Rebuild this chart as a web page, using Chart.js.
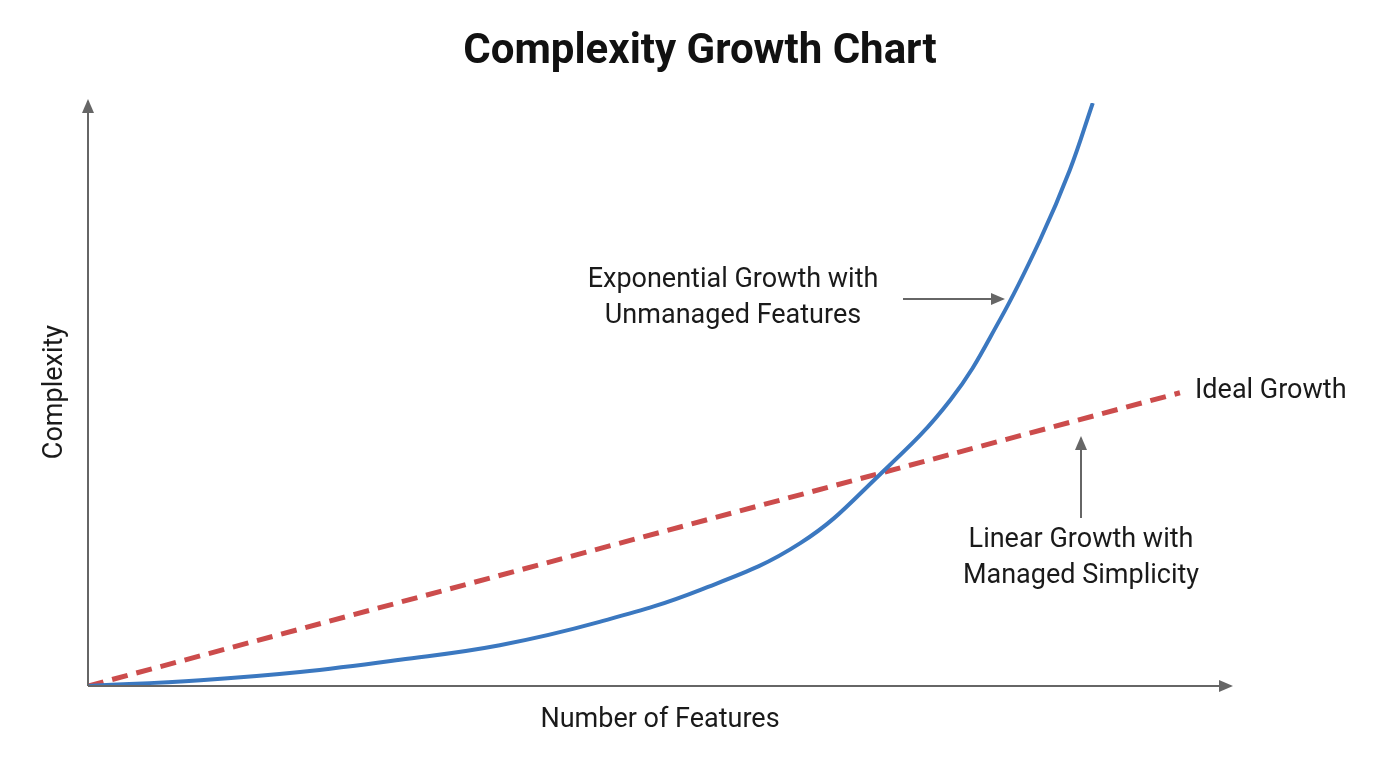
<!DOCTYPE html>
<html><head><meta charset="utf-8">
<script src="https://cdn.jsdelivr.net/npm/chart.js@4"></script>
<style>html,body{margin:0;background:#fff}#wrap{width:1400px;height:764px}</style>
</head><body><div id="wrap"><canvas id="c"></canvas></div>
<script>
const expX = [0, 9.8, 18.5, 27.2, 35.9, 44.6, 53.4, 62.1, 69.0, 75.2, 79.5, 83.0, 85.6, 87.6];
const expY = [0, 1.0, 2.4, 4.5, 7.0, 11.0, 16.5, 24.5, 36.2, 49.1, 62.8, 76.5, 88.5, 100];
const linX = [0, 95.2];
const linY = [0, 50.3];
const titleText = 'Complexity Growth Chart';
const xTitle = 'Number of Features';
const yTitle = 'Complexity';

const deco = {
  id: 'deco',
  afterDraw(chart) {
    const ctx = chart.ctx, a = chart.chartArea;
    const F = '"Roboto", "Liberation Sans", sans-serif';
    ctx.save();
    ctx.fillStyle = '#111'; ctx.textAlign = 'center'; ctx.textBaseline = 'middle';
    ctx.font = 'bold 42px ' + F; ctx.fillText(titleText, 700, 52);
    ctx.font = '27px ' + F; ctx.fillStyle = '#1a1a1a';
    ctx.fillText(xTitle, 660, 720);
    ctx.save(); ctx.translate(55, 392); ctx.rotate(-Math.PI/2); ctx.fillText(yTitle, 0, 0); ctx.restore();
    ctx.fillText('Exponential Growth with', 733, 280);
    ctx.fillText('Unmanaged Features', 733, 316);
    ctx.fillText('Linear Growth with', 1081, 540);
    ctx.fillText('Managed Simplicity', 1081, 576);
    ctx.textAlign = 'left'; ctx.fillText('Ideal Growth', 1195, 391);
    function arrow(x1,y1,x2,y2,h){
      ctx.strokeStyle='#666'; ctx.fillStyle='#666'; ctx.lineWidth=2;
      ctx.beginPath(); ctx.moveTo(x1,y1); ctx.lineTo(x2,y2); ctx.stroke();
      const an=Math.atan2(y2-y1,x2-x1);
      ctx.beginPath(); ctx.moveTo(x2+Math.cos(an)*2,y2+Math.sin(an)*2);
      ctx.lineTo(x2-h*Math.cos(an)+h*0.5*Math.sin(an), y2-h*Math.sin(an)-h*0.5*Math.cos(an));
      ctx.lineTo(x2-h*Math.cos(an)-h*0.5*Math.sin(an), y2-h*Math.sin(an)+h*0.5*Math.cos(an));
      ctx.closePath(); ctx.fill();
    }
    arrow(a.left, a.bottom, a.right-4, a.bottom, 12);
    arrow(a.left, a.bottom, a.left, a.top-2, 12);
    arrow(903, 299, 1003, 299, 12);
    arrow(1081, 518, 1081, 438, 12);
    ctx.restore();
  }
};

new Chart(document.getElementById('c'), {
  type: 'scatter',
  data: { datasets: [
    { data: linX.map((x,i)=>({x, y: linY[i]})), showLine: true, borderColor: '#cc4c4c', borderWidth: 5, borderDash: [16, 9], pointRadius: 0, order: 2 },
    { data: expX.map((x,i)=>({x, y: expY[i]})), showLine: true, borderColor: '#3b78c0', borderWidth: 4, tension: 0.4, pointRadius: 0, order: 1 }
  ]},
  plugins: [deco],
  options: {
    responsive: true, maintainAspectRatio: false, animation: false,
    layout: { padding: { left: 88, right: 165, top: 103, bottom: 78 } },
    plugins: { legend: { display: false }, tooltip: { enabled: false } },
    scales: {
      x: { type: 'linear', min: 0, max: 100, display: false },
      y: { type: 'linear', min: 0, max: 100, display: false }
    }
  }
});
</script></body></html>
